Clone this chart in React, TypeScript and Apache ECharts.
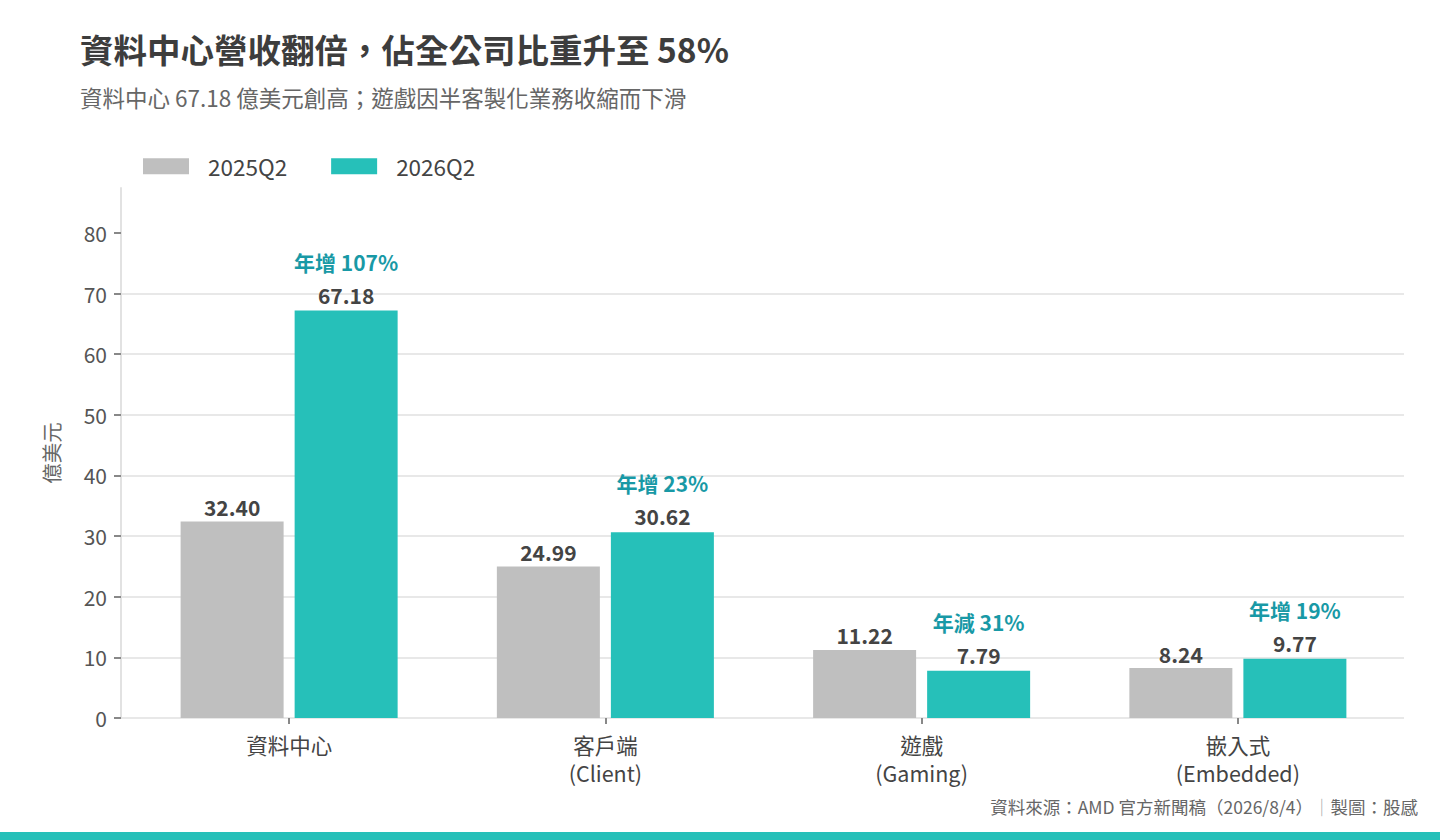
import React, { useEffect, useRef } from 'react';
import * as echarts from 'echarts';

const categories = ['資料中心', '客戶端\n(Client)', '遊戲\n(Gaming)', '嵌入式\n(Embedded)'];
const seriesNames = ['2025Q2', '2026Q2'];
const values2025 = [32.4, 24.99, 11.22, 8.24];
const values2026 = [67.18, 30.62, 7.79, 9.77];
const growthLabels = ['年增 107%', '年增 23%', '年減 31%', '年增 19%'];
const yTicks = [0, 10, 20, 30, 40, 50, 60, 70, 80];

const FONT = '"Noto Sans CJK TC", "Noto Sans", sans-serif';
const GRAY = '#bfbfbf';
const TEAL = '#26c0b9';
const TEAL_DARK = '#1899a6';
const Y_MAX = 87.4;

const App: React.FC = () => {
  const chartRef = useRef<HTMLDivElement>(null);

  useEffect(() => {
    if (!chartRef.current) return;
    const chart = echarts.init(chartRef.current, undefined, { renderer: 'svg' });

    const options: echarts.EChartsOption = {
      animation: false,
      backgroundColor: '#fff',
      textStyle: { fontFamily: FONT },
      legend: {
        left: 143,
        top: 155,
        padding: 0,
        itemWidth: 46,
        itemHeight: 16,
        itemGap: 44,
        icon: 'rect',
        data: seriesNames,
        textStyle: { fontSize: 22.5, color: '#444', fontFamily: FONT, padding: [0, 0, 0, 14] }
      },
      grid: [
        { left: 121, right: 36, top: 188, bottom: 122 },
        { left: 131, right: 44, top: 188, bottom: 122 }
      ],
      xAxis: [
        { type: 'value', gridIndex: 0, show: false, min: 0, max: 1 },
        {
          type: 'category',
          gridIndex: 1,
          data: categories,
          axisLine: { show: false },
          axisTick: { show: true, alignWithLabel: true, length: 6, lineStyle: { color: '#888', width: 2 } },
          axisLabel: { fontSize: 21.5, color: '#444', lineHeight: 28, margin: 12, fontFamily: FONT }
        }
      ],
      yAxis: [
        {
          type: 'value',
          gridIndex: 0,
          min: 0,
          max: Y_MAX,
          interval: 10,
          name: '億美元',
          nameLocation: 'middle',
          nameRotate: 90,
          nameGap: 60,
          nameTextStyle: { fontSize: 20.5, color: '#666', fontFamily: FONT },
          axisLine: { show: true, lineStyle: { color: '#e2e2e2', width: 2 } },
          axisTick: { show: true, length: 7, customValues: yTicks, lineStyle: { color: '#888', width: 2 } },
          axisLabel: {
            fontSize: 21,
            color: '#555',
            margin: 14,
            fontFamily: FONT,
            customValues: yTicks
          },
          splitLine: { show: true, showMaxLine: false, lineStyle: { color: '#e8e8e8', width: 2 } }
        },
        { type: 'value', gridIndex: 1, show: false, min: 0, max: Y_MAX }
      ],
      series: [
        {
          name: seriesNames[0],
          type: 'bar',
          xAxisIndex: 1,
          yAxisIndex: 1,
          data: values2025,
          barWidth: 103,
          barGap: '10.7%',
          itemStyle: { color: GRAY },
          label: {
            show: true,
            position: 'top',
            distance: 4,
            fontSize: 21,
            fontWeight: 'bold',
            color: '#444',
            fontFamily: FONT,
            formatter: (p: any) => Number(p.value).toFixed(2)
          }
        },
        {
          name: seriesNames[1],
          type: 'bar',
          xAxisIndex: 1,
          yAxisIndex: 1,
          data: values2026,
          barWidth: 103,
          itemStyle: { color: TEAL },
          label: {
            show: true,
            position: 'top',
            distance: 3,
            fontFamily: FONT,
            formatter: (p: any) => `{g|${growthLabels[p.dataIndex]}}\n{v|${Number(p.value).toFixed(2)}}`,
            rich: {
              g: { fontSize: 21, fontWeight: 'bold', color: TEAL_DARK, lineHeight: 40, fontFamily: FONT },
              v: { fontSize: 21, fontWeight: 'bold', color: '#444', lineHeight: 26, fontFamily: FONT }
            }
          }
        }
      ],
      graphic: [
        {
          type: 'text',
          left: 80,
          top: 32,
          style: {
            text: '資料中心營收翻倍，佔全公司比重升至 58%',
            fontSize: 33.5,
            fontWeight: 'bold',
            fill: '#3d3d3d',
            fontFamily: FONT
          }
        },
        {
          type: 'text',
          left: 80,
          top: 86,
          style: {
            text: '資料中心 67.18 億美元創高；遊戲因半客製化業務收縮而下滑',
            fontSize: 22.5,
            fill: '#666',
            fontFamily: FONT
          }
        },
        {
          type: 'text',
          right: 22,
          top: 798,
          style: {
            text: '資料來源：AMD 官方新聞稿（2026/8/4）{s|｜}製圖：股感',
            fontSize: 17.5,
            fill: '#666',
            fontFamily: FONT,
            rich: { s: { fontSize: 17.5, fill: '#aaa', fontFamily: FONT } }
          } as any
        },
        {
          type: 'rect',
          left: 0,
          top: 832,
          shape: { width: 1440, height: 8 },
          style: { fill: TEAL }
        }
      ]
    };

    chart.setOption(options);
    return () => {
      chart.dispose();
    };
  }, []);

  return (
    <div
      ref={chartRef}
      style={{ position: 'absolute', left: 0, top: 0, width: 1440, height: 840 }}
    />
  );
};

export default App;
